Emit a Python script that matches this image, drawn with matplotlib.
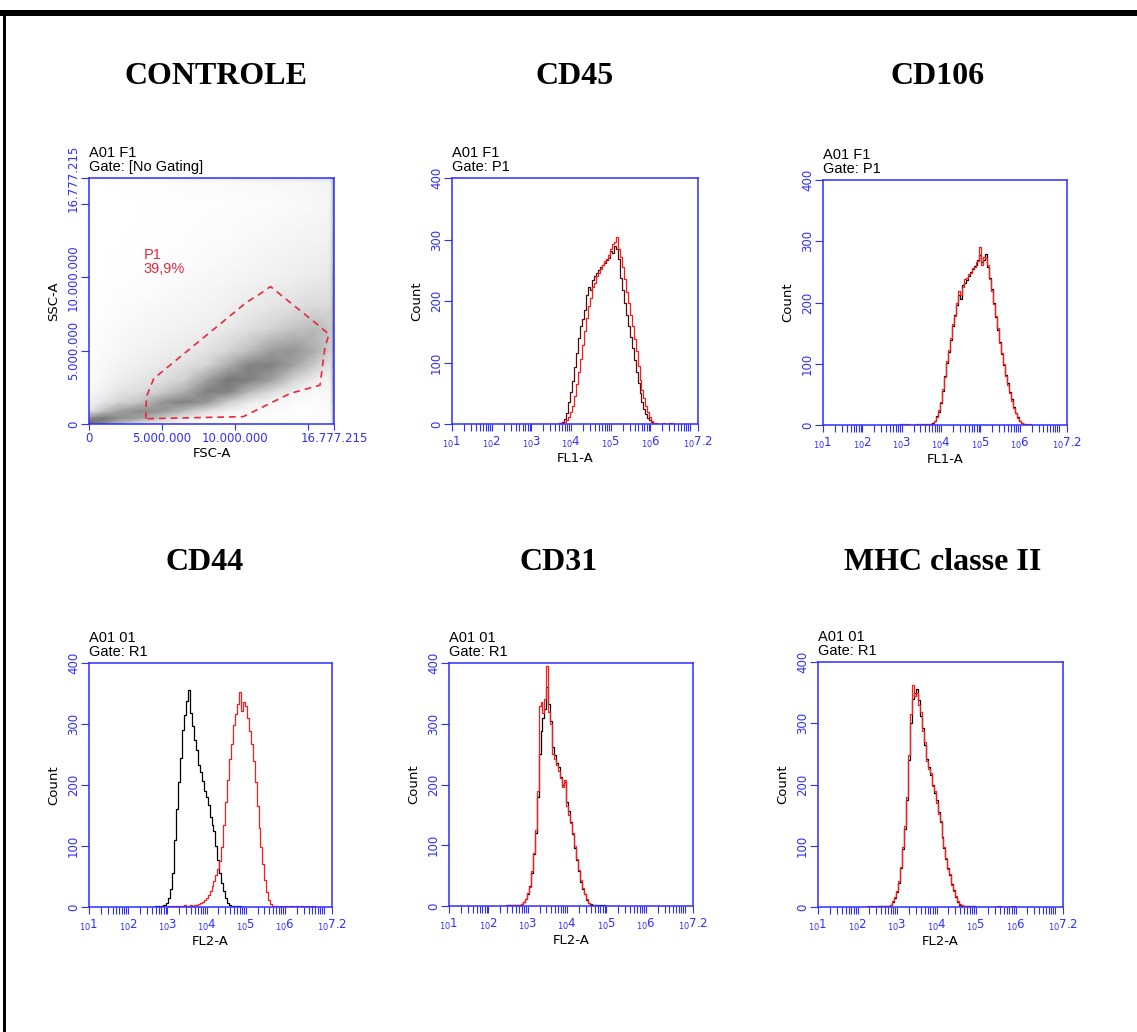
import matplotlib
matplotlib.use("Agg")
import matplotlib.pyplot as plt
from matplotlib.patches import Rectangle
from matplotlib.ticker import FixedLocator, NullFormatter
import numpy as np

W, H = 1137, 1032
BLUE = '#2e2eff'
RED = '#ff1a1a'
STEP = 0.05  # width of one channel, in decades

# ---- data (counts per channel) ----
cd45_start = 3.70
cd45_black = [1, 2, 4, 8, 18, 35, 52, 70, 92, 115, 140, 160, 170, 185, 210, 222, 218, 234, 240,
              245, 250, 256, 258, 262, 266, 270, 282, 278, 290, 284, 268, 238, 218, 196, 178, 160,
              142, 124, 104, 85, 66, 50, 36, 25, 16, 10, 6, 3, 1, 0, 0]
cd45_red = [1, 1, 2, 3, 6, 12, 20, 30, 46, 65, 84, 105, 128, 152, 172, 192, 205, 222, 230, 240,
            246, 252, 258, 265, 268, 275, 285, 292, 296, 304, 285, 272, 256, 236, 214, 196, 178,
            160, 138, 118, 95, 72, 55, 42, 30, 20, 12, 5, 2, 1, 0, 0, 0, 2, 0, 0, 2, 2, 0, 0]

cd106_start = 2.95
cd106_black = [0, 0, 0, 0, 0, 0, 0, 0, 0, 0, 0, 0, 0, 0, 0,
               0, 1, 3, 7, 14, 22, 36, 55, 80, 101, 120, 138, 162, 180, 196, 212, 205, 228, 232,
               236, 244, 250, 254, 260, 262, 270, 278, 266, 270, 280, 258, 240, 222, 200, 176, 155,
               136, 116, 98, 82, 68, 54, 42, 30, 20, 13, 6, 3, 1, 0, 0, 0, 0]
cd106_red = [2, 2, 2, 2, 2, 0, 0, 0, 0, 1, 1, 1, 1, 1, 1,
             1, 1, 2, 6, 13, 24, 38, 58, 78, 104, 122, 142, 165, 178, 200, 218, 212, 226, 238,
             240, 246, 248, 256, 258, 266, 268, 290, 262, 275, 272, 262, 238, 218, 198, 178, 158,
             134, 118, 100, 80, 66, 52, 40, 28, 19, 11, 6, 3, 2, 2, 2, 1, 0]

cd44_start = 2.65
cd44_black = [0, 2, 2, 1, 2, 3, 4, 7, 14, 30, 55, 110, 160, 205, 245, 290, 315, 338, 355, 318,
              296, 274, 258, 232, 222, 206, 190, 180, 168, 148, 134, 124, 100, 77, 56, 40, 26,
              14, 6, 3, 2, 1, 1, 1, 1, 0]
cd44_red = [0, 0, 0, 0, 0, 0, 0, 0,
            1, 1, 2, 1, 2, 2, 1, 2, 3, 2, 2, 3, 2, 3, 3, 5, 6, 8, 11, 14, 19, 26, 34, 43, 52, 62,
            76, 98, 135, 172, 208, 242, 268, 298, 316, 332, 352, 322, 336, 330, 310, 288, 268,
            240, 205, 165, 130, 99, 70, 45, 24, 11, 5, 2, 1, 1, 0, 2, 0, 1, 2, 0, 2, 1, 0, 2, 0,
            1, 2, 0, 1, 2, 0, 1, 2, 0]

cd31_start = 2.45
cd31_black = [0, 1, 2, 1, 2, 2, 1, 2, 3, 6, 11, 20, 33, 55, 85, 120, 180, 250, 288, 310, 325,
              360, 332, 305, 262, 248, 236, 228, 212, 200, 204, 172, 156, 138, 118, 96, 76, 58,
              40, 28, 20, 10, 5, 3, 2, 1, 1, 1, 2, 1, 1, 0]
cd31_red = [1, 2, 1, 2, 2, 1, 2, 2, 3, 6, 12, 21, 32, 58, 88, 125, 190, 330, 335, 318, 340, 395,
            320, 300, 250, 242, 232, 222, 210, 196, 208, 165, 150, 136, 120, 98, 78, 60, 42, 30,
            20, 11, 5, 2, 1, 1, 0, 0, 0, 0, 0, 0]

mhc_start = 2.25
mhc_black = [0, 0, 0, 0, 0, 0, 1, 2, 1, 2, 1, 2, 3, 8, 14, 24, 40, 64, 95, 128, 175, 240, 300,
             340, 350, 356, 338, 312, 292, 265, 242, 228, 215, 200, 186, 174, 155, 138, 115, 96,
             78, 64, 52, 38, 28, 16, 8, 4, 2, 2, 1, 2, 1, 2, 1, 0]
mhc_red = [1, 2, 1, 2, 1, 2, 1, 1, 2, 1, 2, 2, 4, 9, 16, 26, 42, 66, 98, 132, 180, 248, 315,
           362, 345, 350, 330, 318, 288, 270, 238, 226, 218, 198, 190, 170, 152, 140, 112, 98,
           80, 62, 54, 36, 26, 18, 9, 5, 3, 2, 1, 1, 0, 1, 0, 0, 0, 0, 0, 0, 0, 0, 0, 0, 0,
           0, 2, 2, 0, 0, 0, 0, 0, 2, 2, 0]

# scatter density (FSC-A x SSC-A), node values 0..10
fsc_nodes = [0, 1.0e6, 2.0e6, 3.5e6, 5.0e6, 6.5e6, 8.0e6, 9.5e6, 11.0e6, 12.5e6, 14.0e6,
             15.5e6, 16.4e6, 16.6e6, 16777215]
ssc_nodes = [0, 0.4e6, 0.9e6, 1.5e6, 2.2e6, 3.0e6, 4.0e6, 5.0e6, 6.5e6, 8.0e6, 10.0e6,
             12.5e6, 15.0e6, 16.5e6, 16777215]
density = [
    [9, 7, 5, 2.5, 0.8, 0.4, 0.2, 0.1, 0.1, 0.1, 0.1, 0.2, 0.3, 1, 8],
    [7, 8, 7, 6, 4, 2, 1, 0.4, 0.2, 0.2, 0.2, 0.2, 0.4, 1.2, 8],
    [2.5, 4.5, 6, 7, 6.5, 5, 3, 1.5, 0.7, 0.4, 0.3, 0.3, 0.5, 1.5, 8],
    [1.2, 2.5, 3.5, 4.5, 6.5, 7.5, 6.5, 4, 2, 1, 0.5, 0.4, 0.6, 1.8, 8.5],
    [0.8, 1.5, 2.5, 3, 4, 5.5, 7.5, 7.5, 5, 3, 1.5, 0.8, 0.8, 2, 9],
    [0.6, 1.1, 1.7, 2.3, 2.8, 3.8, 6, 8, 7.5, 6, 3.5, 1.8, 1.2, 2.5, 9],
    [0.4, 0.8, 1.3, 1.8, 2.2, 2.7, 3.5, 5.5, 7.5, 7.5, 6, 4, 2.5, 3, 9],
    [0.3, 0.6, 0.9, 1.3, 1.7, 2, 2.5, 3.5, 4.8, 6.2, 6.5, 5.5, 4, 3.5, 9],
    [0.2, 0.4, 0.6, 0.9, 1.1, 1.4, 1.8, 2.2, 2.8, 3.6, 4.5, 5, 4.5, 4, 9],
    [0.1, 0.2, 0.4, 0.6, 0.8, 1, 1.2, 1.6, 2, 2.4, 2.8, 3.2, 3.2, 3.5, 8.5],
    [0.05, 0.1, 0.2, 0.3, 0.4, 0.6, 0.8, 1, 1.2, 1.5, 1.8, 2, 2.2, 3, 8],
    [0.02, 0.05, 0.1, 0.15, 0.2, 0.3, 0.4, 0.5, 0.7, 0.9, 1.1, 1.3, 1.5, 2.5, 7.5],
    [0.01, 0.02, 0.05, 0.08, 0.12, 0.18, 0.25, 0.3, 0.4, 0.5, 0.6, 0.8, 1, 2, 7],
    [0.05, 0.1, 0.15, 0.2, 0.3, 0.4, 0.5, 0.6, 0.7, 0.8, 0.9, 1, 1.1, 2, 7],
    [0.3, 0.5, 0.8, 1, 1.3, 1.6, 1.8, 2, 2.2, 2.5, 2.8, 3, 3.2, 4, 8],
]

gate_fsc = [3.886e6, 3.93e6, 4.434e6, 10.79e6, 11.70e6, 12.43e6, 15.59e6, 16.43e6, 16.16e6,
            15.82e6, 13.76e6, 10.56e6]
gate_ssc = [0.362e6, 1.855e6, 3.10e6, 8.30e6, 8.87e6, 9.37e6, 6.83e6, 6.11e6, 5.25e6,
            2.65e6, 2.08e6, 0.50e6]

titles = ['CONTROLE', 'CD45', 'CD106', 'CD44', 'CD31', 'MHC classe II']


def px_axes(x0, y0, x1, y1):
    return fig.add_axes([x0 / W, 1 - y1 / H, (x1 - x0) / W, (y1 - y0) / H])


def frame(ax, header, xlabel, ylabel):
    for s in ax.spines.values():
        s.set_color(BLUE)
        s.set_linewidth(1.1)
    ax.tick_params(colors=BLUE, which='both', direction='out', width=0.8)
    ax.tick_params(axis='y', length=5.5, labelsize=8.5, pad=1)
    ax.text(0, 1.015, header, transform=ax.transAxes, ha='left', va='bottom',
            fontsize=10.5, family='Liberation Sans', linespacing=1.0)
    ax.set_xlabel(xlabel, fontsize=9.5, labelpad=1)
    ax.set_ylabel(ylabel, fontsize=9.5, labelpad=5)


def histogram(ax, start, black, red, xlabel, header, black_color='black'):
    xb = 10 ** (start + STEP * np.arange(len(black)))
    xr = 10 ** (start + STEP * np.arange(len(red)))
    ax.plot(xb, black, drawstyle='steps-mid', color=black_color, lw=0.9)
    ax.plot(xr, red, drawstyle='steps-mid', color=RED, lw=0.9)
    ax.set_xscale('log')
    ax.set_xlim(10, 10 ** 7.2)
    ax.set_ylim(0, 400)
    ax.set_xticks([10 ** k for k in range(1, 7)] + [10 ** 7.2])
    ax.set_xticklabels([r'${}_{10}%d$' % k for k in range(1, 7)] + [r'${}_{10}7.2$'],
                       fontsize=8.5)
    minors = [m * 10 ** k for k in range(1, 7) for m in range(2, 10)] + [1e7]
    ax.xaxis.set_minor_locator(FixedLocator(minors))
    ax.xaxis.set_minor_formatter(NullFormatter())
    ax.tick_params(axis='x', which='both', length=5, pad=3)
    ax.set_yticks([0, 100, 200, 300, 400])
    ax.set_yticklabels(['0', '100', '200', '300', '400'], rotation=90, va='center')
    frame(ax, header, xlabel, 'Count')


fig = plt.figure(figsize=(W / 100, H / 100), dpi=100)

# scatter panel
ax = px_axes(89, 178, 334, 424)
ax.pcolormesh(fsc_nodes, ssc_nodes, density, shading='gouraud', cmap='Greys', vmin=0, vmax=13,
              rasterized=True)
ax.plot(gate_fsc + gate_fsc[:1], gate_ssc + gate_ssc[:1], color='#e8283c', lw=1.2,
        linestyle=(0, (4, 3)))
ax.text(3.75e6, 12.0e6, 'P1\n39,9%', color='#e8283c', fontsize=10.5, family='Liberation Sans',
        va='top', linespacing=1.0)
ax.set_xlim(0, 16777215)
ax.set_ylim(0, 16777215)
ax.set_xticks([0, 5e6, 10e6, 15e6, 16777215])
ax.set_xticklabels(['0', '5.000.000', '10.000.000', '', '16.777.215'], fontsize=8.5)
ax.set_yticks([0, 5e6, 10e6, 15e6, 16777215])
ax.set_yticklabels(['0', '5.000.000', '10.000.000', '', '16.777.215'], rotation=90,
                   va='center')
ax.tick_params(axis='x', length=4, pad=2)
frame(ax, 'A01 F1\nGate: [No Gating]', 'FSC-A', 'SSC-A')

histogram(px_axes(452, 178, 698, 424), cd45_start, cd45_black, cd45_red, 'FL1-A',
          'A01 F1\nGate: P1', black_color='#5a0a0a')
histogram(px_axes(823, 180, 1067, 425), cd106_start, cd106_black, cd106_red, 'FL1-A',
          'A01 F1\nGate: P1')
histogram(px_axes(89, 663, 332, 907), cd44_start, cd44_black, cd44_red, 'FL2-A',
          'A01 01\nGate: R1')
histogram(px_axes(449, 663, 693, 906), cd31_start, cd31_black, cd31_red, 'FL2-A',
          'A01 01\nGate: R1')
histogram(px_axes(818, 662, 1063, 907), mhc_start, mhc_black, mhc_red, 'FL2-A',
          'A01 01\nGate: R1')

# panel titles
title_pos = [(216, 76), (575, 76), (938, 76), (205, 563), (559, 563), (943, 563)]
for t, (x, y) in zip(titles, title_pos):
    fig.text(x / W, 1 - y / H, t, ha='center', va='center', fontsize=23,
             family='Liberation Serif', weight='bold')

# black frame at top and left
fig.add_artist(Rectangle((0, 1 - 16 / H), 1, 6 / H, transform=fig.transFigure,
                         color='black', lw=0))
fig.add_artist(Rectangle((3 / W, 0), 3 / W, 1 - 10 / H, transform=fig.transFigure,
                         color='black', lw=0))

fig.savefig('out.png', dpi=100)
